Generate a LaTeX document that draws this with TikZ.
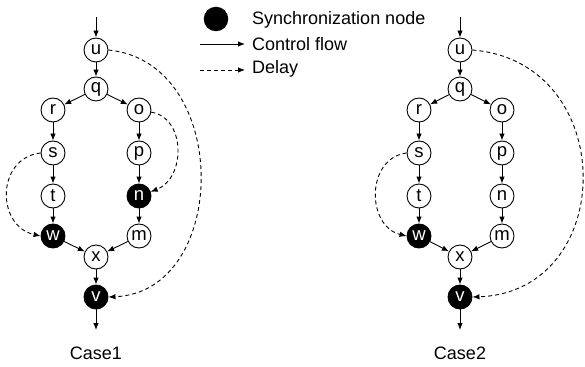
\documentclass[tikz,border=0pt]{standalone}
\usepackage{fontspec}
\setmainfont{Liberation Sans}
\usetikzlibrary{arrows.meta}
\begin{document}
\begin{tikzpicture}[x=1pt,y=-1pt,
  nd/.style={circle,draw,line width=0.9pt,minimum size=24pt,inner sep=0pt,
    fill=white,font=\fontsize{18.5}{18.5}\selectfont},
  sync/.style={nd,fill=black,text=white},
  flow/.style={line width=0.9pt,-{Latex[length=7pt,width=5.5pt]}},
  delay/.style={flow,dash pattern=on 4pt off 3pt},
  lbl/.style={font=\fontsize{18}{20}\selectfont,inner sep=0pt}]
\useasboundingbox (0,0) rectangle (585,366);

% ---------- legend ----------
\node[circle,fill=black,minimum size=24.5pt,inner sep=0pt] (legsync) at (216,19) {};
\node[lbl,anchor=west] (legsynctxt) at (252,20) {Synchronization node};
\coordinate (legflowa) at (200,44);
\coordinate (legflowb) at (245,44);
\node[lbl,anchor=west] (legflowtxt) at (252,44) {Control flow};
\coordinate (legdela) at (200,70);
\coordinate (legdelb) at (245,70);
\node[lbl,anchor=west] (legdeltxt) at (252,69) {Delay};
\draw[flow] (legflowa) -- (legflowb);
\draw[delay] (legdela) -- (legdelb);

% ---------- Case 1 ----------
\coordinate (ain) at (96,17);
\coordinate (aout) at (96,330);
\node[nd] (au) at (96,50) {u};
\node[nd] (aq) at (96,89) {q};
\node[nd] (ar) at (53,110) {r};
\node[nd] (ao) at (139,110) {o};
\node[nd] (as) at (53,153) {s};
\node[nd] (ap) at (139,153) {p};
\node[nd] (at) at (53,196) {t};
\node[sync] (an) at (139,196) {n};
\node[sync] (aw) at (53,236) {w};
\node[nd] (am) at (139,236) {m};
\node[nd] (ax) at (96,257) {x};
\node[sync] (av) at (96,297) {v};
\node[lbl] (acase) at (96,353) {Case1};

\draw[flow] (ain) -- (au);
\draw[flow] (au) -- (aq);
\draw[flow] (aq) -- (ar);
\draw[flow] (aq) -- (ao);
\draw[flow] (ar) -- (as);
\draw[flow] (as) -- (at);
\draw[flow] (at) -- (aw);
\draw[flow] (ao) -- (ap);
\draw[flow] (ap) -- (an);
\draw[flow] (an) -- (am);
\draw[flow] (aw) -- (ax);
\draw[flow] (am) -- (ax);
\draw[flow] (ax) -- (av);
\draw[flow] (av) -- (aout);

\draw[delay] (au.east) .. controls (232,62) and (230,292) .. (av.east);
\draw[delay] (ao.-10) .. controls (186,118) and (186,178) .. (an.20);
\draw[delay] (as.west) .. controls (-4,158) and (-4,226) .. (aw.west);

% ---------- Case 2 ----------
\coordinate (bin) at (460,17);
\coordinate (bout) at (460,330);
\node[nd] (bu) at (460,50) {u};
\node[nd] (bq) at (460,89) {q};
\node[nd] (br) at (419,110) {r};
\node[nd] (bo) at (502,110) {o};
\node[nd] (bs) at (419,153) {s};
\node[nd] (bp) at (502,153) {p};
\node[nd] (bt) at (419,196) {t};
\node[nd] (bn) at (502,196) {n};
\node[sync] (bw) at (419,236) {w};
\node[nd] (bm) at (502,236) {m};
\node[nd] (bx) at (460,257) {x};
\node[sync] (bv) at (460,297) {v};
\node[lbl] (bcase) at (460,353) {Case2};

\draw[flow] (bin) -- (bu);
\draw[flow] (bu) -- (bq);
\draw[flow] (bq) -- (br);
\draw[flow] (bq) -- (bo);
\draw[flow] (br) -- (bs);
\draw[flow] (bs) -- (bt);
\draw[flow] (bt) -- (bw);
\draw[flow] (bo) -- (bp);
\draw[flow] (bp) -- (bn);
\draw[flow] (bn) -- (bm);
\draw[flow] (bw) -- (bx);
\draw[flow] (bm) -- (bx);
\draw[flow] (bx) -- (bv);
\draw[flow] (bv) -- (bout);

\draw[delay] (bu.east) .. controls (620,62) and (618,292) .. (bv.east);
\draw[delay] (bs.west) .. controls (366,158) and (366,226) .. (bw.west);
\end{tikzpicture}
\end{document}
